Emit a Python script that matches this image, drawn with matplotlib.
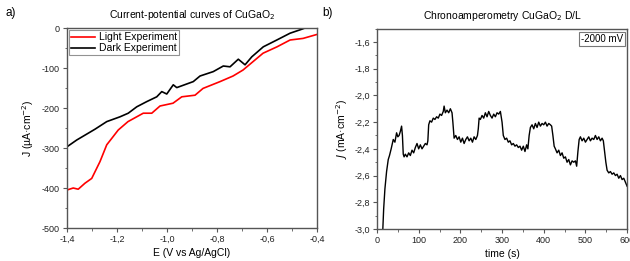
import numpy as np
import matplotlib
matplotlib.use("Agg")
import matplotlib.pyplot as plt
from matplotlib.ticker import MultipleLocator, FuncFormatter

plt.rcParams['font.family'] = ['Liberation Sans', 'DejaVu Sans']
plt.rcParams['axes.unicode_minus'] = False

# current-potential curves
light_E = [-1.400, -1.375, -1.355, -1.328, -1.301, -1.268, -1.241, -1.221, -1.195,
           -1.156, -1.095, -1.061, -1.028, -0.976, -0.941, -0.888, -0.856, -0.788,
           -0.736, -0.696, -0.656, -0.616, -0.560, -0.508, -0.456, -0.400]
light_J = [-405, -400, -403, -388, -376, -334, -292, -276, -255,
           -234, -213, -213, -195, -188, -172, -168, -151, -134,
           -120, -105, -84, -63, -47, -30, -26, -16]

dark_E = [-1.400, -1.361, -1.315, -1.288, -1.241, -1.188, -1.155, -1.121, -1.081,
          -1.041, -1.021, -1.001, -0.975, -0.961, -0.895, -0.868, -0.815, -0.775,
          -0.748, -0.715, -0.688, -0.661, -0.615, -0.561, -0.508, -0.461, -0.440]
dark_J = [-297, -280, -263, -253, -234, -222, -213, -197, -184,
          -172, -159, -165, -142, -149, -134, -120, -109, -95,
          -97, -78, -92, -72, -47, -30, -13, -3, 2]

# chronoamperometry
ca_t = [14, 16, 19, 23, 27, 30, 34, 39, 43, 47, 50, 53, 56, 59, 61, 63,
        65, 68, 72, 76, 80, 84, 88, 92, 96, 100, 104, 108, 112, 116, 120, 122,
        124, 127, 131, 135, 139, 143, 147, 151, 155, 159, 161, 164, 168, 172, 176, 180, 182,
        185, 189, 193, 197, 201, 205, 209, 213, 217, 221, 225, 229, 233, 237, 241,
        243, 245, 248, 252, 256, 260, 264, 268, 272, 276, 280, 284, 288, 292, 296,
        300, 303, 307, 311, 315, 319, 323, 327, 331, 335, 339, 343, 347, 351, 355, 359, 362,
        365, 368, 372, 376, 380, 384, 388, 392, 396, 400, 404, 408, 412, 416, 419,
        422, 425, 428, 432, 436, 440, 444, 448, 452, 456, 460, 464, 468, 472, 476, 479,
        482, 485, 488, 492, 496, 500, 504, 508, 512, 516, 520, 524, 528, 532, 536, 540, 543,
        546, 549, 552, 556, 560, 564, 568, 572, 576, 580, 584, 588, 592, 596, 600]
ca_J = [-3.00, -2.85, -2.70, -2.57, -2.48, -2.45, -2.40, -2.33, -2.35, -2.28, -2.31, -2.30, -2.27, -2.23, -2.30, -2.44,
        -2.46, -2.44, -2.46, -2.43, -2.45, -2.41, -2.43, -2.39, -2.36, -2.40, -2.37, -2.40, -2.38, -2.36, -2.37, -2.34,
        -2.22, -2.19, -2.20, -2.17, -2.18, -2.16, -2.17, -2.14, -2.15, -2.12, -2.08, -2.13, -2.11, -2.13, -2.10, -2.13, -2.20,
        -2.32, -2.30, -2.33, -2.31, -2.35, -2.32, -2.36, -2.33, -2.31, -2.34, -2.32, -2.35, -2.31, -2.33, -2.30,
        -2.25, -2.17, -2.18, -2.15, -2.17, -2.13, -2.16, -2.12, -2.15, -2.17, -2.14, -2.16, -2.13, -2.14, -2.12,
        -2.20, -2.30, -2.33, -2.32, -2.35, -2.34, -2.37, -2.36, -2.38, -2.37, -2.39, -2.38, -2.41, -2.38, -2.42, -2.37, -2.40,
        -2.30, -2.24, -2.22, -2.25, -2.21, -2.24, -2.20, -2.23, -2.21, -2.22, -2.20, -2.23, -2.21, -2.22, -2.23,
        -2.30, -2.38, -2.40, -2.43, -2.41, -2.45, -2.43, -2.47, -2.46, -2.50, -2.48, -2.52, -2.49, -2.50, -2.49, -2.53,
        -2.42, -2.33, -2.31, -2.34, -2.32, -2.35, -2.33, -2.31, -2.34, -2.32, -2.33, -2.30, -2.33, -2.31, -2.34, -2.32, -2.34,
        -2.42, -2.50, -2.56, -2.58, -2.57, -2.59, -2.58, -2.60, -2.59, -2.62, -2.60, -2.63, -2.62, -2.65, -2.68]


def comma(fmt):
    return FuncFormatter(lambda v, p: (fmt % v).replace('.', ',').replace('-0,0', '0,0'))


def style_axes(ax):
    for s in ax.spines.values():
        s.set_color('#555555')
        s.set_linewidth(1.0)
    ax.tick_params(which='both', direction='out', color='#555555', labelsize=6.5,
                   labelcolor='#222222', pad=2)
    ax.tick_params(which='major', length=3)
    ax.tick_params(which='minor', length=1.8)


fig = plt.figure(figsize=(6.3, 2.61), dpi=100)

ax1 = fig.add_axes([0.1063, 0.1264, 0.397, 0.7663])
ax1.plot(light_E, light_J, color='#ff0000', lw=1.2, label='Light Experiment')
ax1.plot(dark_E, dark_J, color='black', lw=1.2, label='Dark Experiment')
ax1.set_xlim(-1.4, -0.4)
ax1.set_ylim(-500, 0)
ax1.xaxis.set_major_locator(MultipleLocator(0.2))
ax1.xaxis.set_minor_locator(MultipleLocator(0.1))
ax1.yaxis.set_major_locator(MultipleLocator(100))
ax1.yaxis.set_minor_locator(MultipleLocator(50))
ax1.xaxis.set_major_formatter(comma('%.1f'))
style_axes(ax1)
ax1.set_xlabel('E (V vs Ag/AgCl)', fontsize=7.5, labelpad=3)
ax1.set_ylabel('J (µA·cm$^{-2}$)', fontsize=7.5, labelpad=4)
ax1.set_title('Current-potential curves of CuGaO$_2$', fontsize=7.5, pad=7)
leg = ax1.legend(loc='upper left', fontsize=7.5, frameon=True, fancybox=False,
                 borderpad=0.2, handlelength=2.3, handletextpad=0.4,
                 labelspacing=0.1, borderaxespad=0.2)
leg.get_frame().set_edgecolor('#777777')
leg.get_frame().set_linewidth(0.8)

ax2 = fig.add_axes([0.5984, 0.1226, 0.397, 0.7678])
ax2.plot(ca_t, ca_J, color='black', lw=1.0)
ax2.set_xlim(0, 600)
ax2.set_ylim(-3.0, -1.5)
ax2.xaxis.set_major_locator(MultipleLocator(100))
ax2.xaxis.set_minor_locator(MultipleLocator(50))
ax2.yaxis.set_major_locator(MultipleLocator(0.2))
ax2.yaxis.set_minor_locator(MultipleLocator(0.1))
ax2.yaxis.set_major_formatter(comma('%.1f'))
style_axes(ax2)
ax2.set_xlabel('time (s)', fontsize=7.5, labelpad=3)
ax2.set_ylabel('$J$ (mA·cm$^{-2}$)', fontsize=7.5, labelpad=3)
ax2.set_title('Chronoamperometry CuGaO$_2$ D/L', fontsize=7.5, pad=7)
ax2.text(0.985, 0.975, '-2000 mV', transform=ax2.transAxes, ha='right', va='top',
         fontsize=7, bbox=dict(boxstyle='square,pad=0.2', fc='white', ec='#777777', lw=0.8))

fig.text(0.008, 0.95, 'a)', fontsize=8.5, va='center')
fig.text(0.511, 0.95, 'b)', fontsize=8.5, va='center')

fig.savefig('out.png', dpi=100)
